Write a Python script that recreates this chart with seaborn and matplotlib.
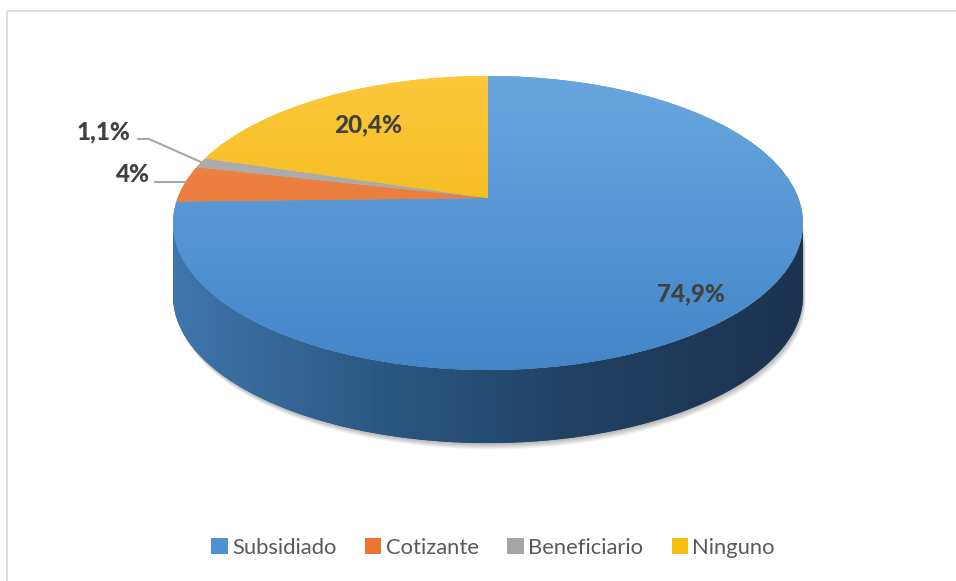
import numpy as np
import matplotlib
matplotlib.use('Agg')
import matplotlib.pyplot as plt
import seaborn as sns
from matplotlib.transforms import Transform
from matplotlib.patches import Polygon, Rectangle
from matplotlib.colors import LinearSegmentedColormap

# Datos
categorias = ['Subsidiado', 'Cotizante', 'Beneficiario', 'Ninguno']
porcentajes = [74.9, 4.0, 1.1, 20.4]
etiquetas = ['74,9%', '4%', '1,1%', '20,4%']

sns.set_theme(style='white')
plt.rcParams['font.family'] = ['Lato', 'DejaVu Sans']

colores = ['#4e91d3', '#ec7530', '#a5a5a5', '#f9be14']
degradados = [('#6aa7df', '#4385c7'), ('#f28f55', '#e2661d'),
              ('#b3b3b3', '#9c9c9c'), ('#fdc93e', '#e9b000')]

# Geometria de la perspectiva (coordenadas en pixeles)
CX, CY = 488, 198
A, B, K = 310.4, 142.8, 0.17
PROF = 73


def proyectar(u, v):
    w = 1 + K * v
    return CX + A * u / w, CY - B * v / w


class Perspectiva(Transform):
    input_dims = 2
    output_dims = 2

    def transform_non_affine(self, values):
        values = np.asarray(values, dtype=float)
        x, y = proyectar(values[:, 0], values[:, 1])
        return np.column_stack([x, y])


fig = plt.figure(figsize=(9.56, 5.81), dpi=100)
ax = fig.add_axes([0, 0, 1, 1])

wedges, _ = ax.pie(porcentajes, colors=colores, startangle=90,
                   counterclock=False, radius=1,
                   wedgeprops=dict(linewidth=0))
for w in wedges:
    w.set_transform(Perspectiva() + ax.transData)
    w.set_zorder(5)

# degradado sobre cada porcion
for w, (c1, c2) in zip(wedges, degradados):
    cmap = LinearSegmentedColormap.from_list('g', [c1, c2])
    img = ax.imshow(np.linspace(0, 1, 200).reshape(-1, 1), cmap=cmap,
                    extent=(170, 810, 375, 70), origin='upper',
                    aspect='auto', zorder=6)
    img.set_clip_path(w)

# lateral del cilindro
alfa = np.arcsin(K)
t = np.linspace(np.pi + alfa, 2 * np.pi - alfa, 200)
xs, ys = proyectar(np.cos(t), np.sin(t))
lado = np.vstack([np.column_stack([xs, ys]),
                  np.column_stack([xs[::-1], ys[::-1] + PROF])])

for i in range(1, 8):
    sombra = Polygon(lado + [i * 0.4, i * 0.9], closed=True,
                     facecolor='black', alpha=0.045, edgecolor='none',
                     zorder=2)
    ax.add_patch(sombra)

poly = Polygon(lado, closed=True, facecolor='#25486c', edgecolor='none',
               zorder=3)
ax.add_patch(poly)
cmap_lado = LinearSegmentedColormap.from_list(
    'lado', ['#3f76ad', '#2b5782', '#213f60', '#1b3350'])
img = ax.imshow(np.linspace(0, 1, 300).reshape(1, -1), cmap=cmap_lado,
                extent=(172, 806, 450, 190), aspect='auto', zorder=4)
img.set_clip_path(poly)

# etiquetas
txt = dict(fontsize=17.5, fontweight='black', color='#404040',
           ha='center', va='center', zorder=10)
ax.text(691, 294, etiquetas[0], **txt)
ax.text(368, 125, etiquetas[3], **txt)
ax.text(132, 174, etiquetas[1], **txt)
ax.text(104, 132, etiquetas[2], **txt)

# lineas guia
ax.plot([155, 185], [182, 182], color='#a6a6a6', lw=1.5, zorder=10)
ax.plot([138, 149, 201], [139, 139, 162], color='#a6a6a6', lw=1.5,
        zorder=10)

# borde del grafico
ax.add_patch(Rectangle((7, 11), 960, 600, fill=False, edgecolor='#d9d9d9',
                       lw=1.2, zorder=1))

leg = ax.legend(wedges, categorias, loc='center',
                bbox_to_anchor=(493 / 956, 1 - 548 / 581), ncol=4,
                frameon=False, handlelength=0.75, handleheight=0.75,
                handletextpad=0.2, columnspacing=1.3, fontsize=15.8,
                labelcolor='#595959')

ax.set_aspect('auto')
ax.set_xlim(0, 956)
ax.set_ylim(581, 0)
ax.axis('off')

fig.savefig('out.png', dpi=100)
